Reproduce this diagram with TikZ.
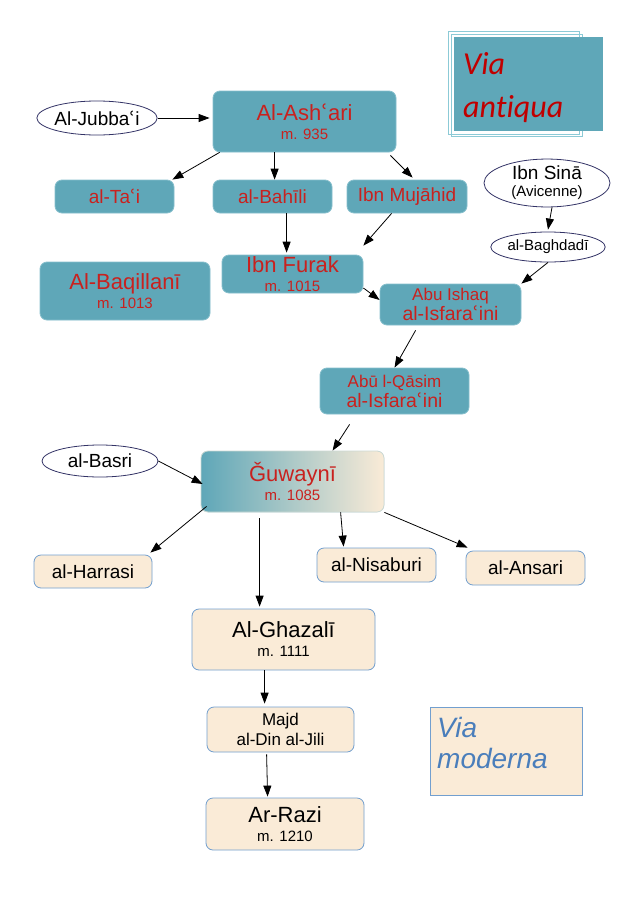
\documentclass[tikz,border=0pt]{standalone}
\usepackage{fontspec}
\setmainfont{Liberation Sans}
\newfontfamily\carl[Ligatures=NoCommon]{Carlito}
\newfontfamily\dejav{DejaVu Sans}
\usetikzlibrary{arrows.meta,shapes.geometric}
\newcommand{\fsz}[2]{\fontsize{#1}{#2}\selectfont}
\newcommand{\ai}{{\dejav ʿ}}
\definecolor{tealc}{HTML}{5FA7B8}
\definecolor{tealb}{HTML}{86BFCC}
\definecolor{redc}{HTML}{C9211E}
\definecolor{beigec}{HTML}{FAEBD7}
\definecolor{blueb}{HTML}{729FCF}
\definecolor{navyc}{HTML}{333366}
\definecolor{antiq}{HTML}{C00000}
\definecolor{modc}{HTML}{4A7EBB}
\definecolor{frame}{HTML}{8CCAD6}
\tikzset{
  tbox/.style={rounded corners=7pt, fill=tealc, draw=tealb, line width=0.8pt, text=redc, align=center, inner sep=0pt},
  bbox/.style={rounded corners=7pt, fill=beigec, draw=blueb, line width=0.8pt, text=black, align=center, inner sep=0pt},
  ell/.style={ellipse, fill=white, draw=navyc, line width=0.8pt, align=center, inner sep=0pt},
  arr/.style={-{Triangle[length=11pt,width=8pt]}, line width=0.8pt, black}
}
\begin{document}
\begin{tikzpicture}[x=1pt,y=-1pt]
\useasboundingbox[fill=white] (0,0) rectangle (640,905);

% Via antiqua
\draw[frame, line width=0.9pt] (448,31) rectangle (579,134);
\draw[frame, line width=0.9pt] (451,34) rectangle (582,136);
\node[fill=tealc, minimum width=149pt, minimum height=94pt, inner sep=0pt] (va) at (528.5,84) {};
\node[anchor=base west, text=antiq, font=\carl\itshape\fsz{32}{32}, inner sep=0pt] (vat1) at (463,74) {Via};
\node[anchor=base west, text=antiq, font=\carl\itshape\fsz{32}{32}, inner sep=0pt] (vat2) at (463,117) {antiqua};

% top
\node[ell, minimum width=116pt, minimum height=34pt, font=\fsz{19}{19}] (jub) at (97,118) {Al-Jubba\ai i};
\node[tbox, minimum width=183pt, minimum height=61pt, font=\fsz{15}{19}] (ash) at (304.5,121.5) {{\fsz{22}{22}Al-Ash\ai ari}\\m. 935};
\node[tbox, minimum width=119pt, minimum height=33pt, font=\fsz{19}{19}] (tai) at (114.5,196.5) {al-Ta\ai i};
\node[tbox, minimum width=119pt, minimum height=33pt, font=\fsz{19}{19}] (bah) at (272.5,196.5) {al-Bahīli};
\node[tbox, minimum width=120pt, minimum height=33pt, font=\fsz{19}{19}] (muj) at (407,196.5) {Ibn Mujāhid};
\node[ell, minimum width=126pt, minimum height=42pt, font=\fsz{15}{17}] (sina) at (547,183) {{\fsz{19}{19}Ibn Sinā}\\(Avicenne)};
\node[ell, minimum width=98pt, minimum height=30pt, font=\fsz{15}{15}] (bagh) at (548,247) {al-Baghdadī};

\node[tbox, minimum width=170pt, minimum height=58pt, font=\fsz{15}{19}] (baq) at (125,291) {{\fsz{22}{22}Al-Baqillanī}\\m. 1013};
\node[tbox, minimum width=141pt, minimum height=38pt, font=\fsz{15}{19}] (furak) at (292.5,274) {{\fsz{22}{22}Ibn Furak}\\m. 1015};
\node[tbox, minimum width=141pt, minimum height=41pt, font=\fsz{17}{20}] (abuish) at (450.5,304.5) {Abu Ishaq\\{\fsz{19.5}{19}al-Isfara\ai ini}};
\node[tbox, minimum width=149pt, minimum height=46pt, font=\fsz{17}{20}] (qasim) at (394.5,391) {Abū l-Qāsim\\{\fsz{19.5}{19}al-Isfara\ai ini}};

\node[ell, minimum width=116pt, minimum height=32pt, font=\fsz{19}{19}] (basri) at (100,461) {al-Basri};
\node[tbox, left color=tealc, right color=beigec, draw=beigec!60!tealb, minimum width=183pt, minimum height=61pt, font=\fsz{15}{19}] (guw) at (292.5,481.5) {{\fsz{22}{22}Ǧuwaynī}\\m. 1085};

\node[bbox, minimum width=118pt, minimum height=33pt, font=\fsz{19}{19}] (harr) at (93,571.5) {al-Harrasi};
\node[bbox, minimum width=119pt, minimum height=34pt, font=\fsz{19}{19}] (nis) at (376.5,565) {al-Nisaburi};
\node[bbox, minimum width=119pt, minimum height=34pt, font=\fsz{19}{19}] (ans) at (525.5,568) {al-Ansari};
\node[bbox, minimum width=183pt, minimum height=61pt, font=\fsz{15}{19}] (ghaz) at (283.5,639.5) {{\fsz{22}{22}Al-Ghazalī}\\m. 1111};
\node[bbox, minimum width=147pt, minimum height=45pt, font=\fsz{17}{20}] (majd) at (280.5,729.5) {Majd\\al-Din al-Jili};
\node[bbox, minimum width=158pt, minimum height=52pt, font=\fsz{15}{19}] (razi) at (285,824) {{\fsz{22}{22}Ar-Razi}\\m. 1210};

% Via moderna
\node[fill=beigec, draw=blueb, line width=0.8pt, minimum width=152pt, minimum height=88pt, inner sep=0pt] (vm) at (506,751) {};
\node[anchor=base west, text=modc, font=\itshape\fsz{28}{28}, inner sep=0pt] (vmt1) at (437,737) {Via};
\node[anchor=base west, text=modc, font=\itshape\fsz{28}{28}, inner sep=0pt] (vmt2) at (437,768) {moderna};

% arrows
\draw[arr] (jub.east) -- ([xshift=-3pt,yshift=3.5pt]ash.west);
\draw[arr] ([xshift=7pt]ash.south west) -- ([xshift=-2pt]tai.north east);
\draw[arr] ([xshift=62pt]ash.south west) -- ([xshift=62pt]bah.north west);
\draw[arr] ([xshift=-6pt,yshift=-3pt]ash.south east) -- ([xshift=66pt,yshift=2pt]muj.north west);
\draw[arr] ([xshift=74pt]bah.south west) -- ([xshift=65pt,yshift=2pt]furak.north west);
\draw[arr] ([xshift=45pt]muj.south west) -- ([yshift=9pt]furak.north east);
\draw[arr] ([xshift=5pt]sina.south) -- ([yshift=2pt]bagh.north);
\draw[arr] (bagh.south) -- (abuish.north east);
\draw[arr] ([yshift=-14pt]furak.east) -- ([yshift=4.5pt]abuish.west);
\draw[arr] ([xshift=36pt,yshift=-5pt]abuish.south west) -- (qasim.north);
\draw[arr] ([xshift=30pt,yshift=-10pt]qasim.south west) -- ([xshift=132pt]guw.north west);
\draw[arr] (basri.east) -- ([xshift=2pt,yshift=-2.5pt]guw.west);
\draw[arr] ([xshift=6pt,yshift=6pt]guw.south west) -- ([xshift=-2pt,yshift=2pt]harr.north east);
\draw[arr] ([xshift=59pt,yshift=-6pt]guw.south west) -- ([xshift=68pt,yshift=2pt]ghaz.north west);
\draw[arr] ([xshift=140pt]guw.south west) -- ([xshift=27pt,yshift=1pt]nis.north west);
\draw[arr] (guw.south east) -- ([xshift=2pt,yshift=3pt]ans.north west);
\draw[arr] ([xshift=73pt]ghaz.south west) -- ([xshift=58pt,yshift=3pt]majd.north west);
\draw[arr] ([xshift=60pt,yshift=-2pt]majd.south west) -- ([xshift=62pt,yshift=1pt]razi.north west);
\end{tikzpicture}
\end{document}
